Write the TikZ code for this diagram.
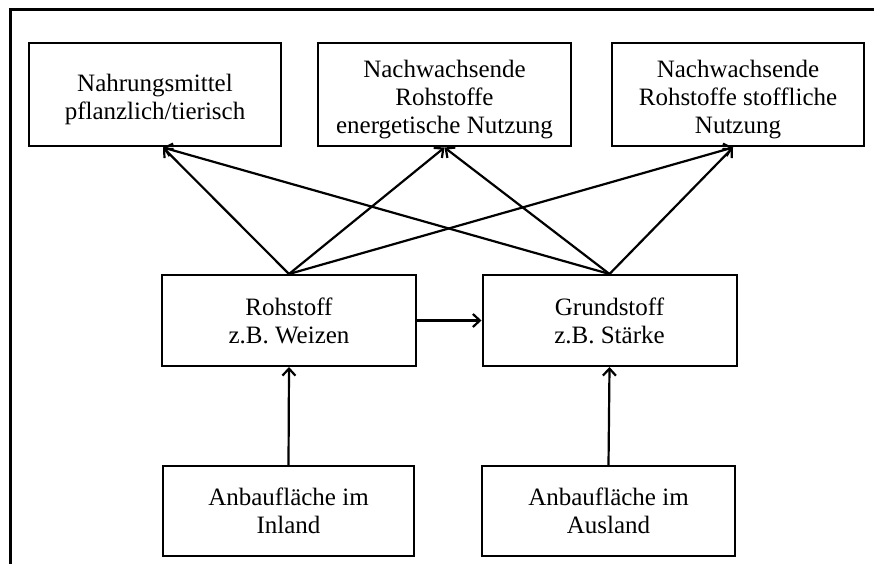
\documentclass[tikz,border=0pt]{standalone}
\usepackage{fontspec}
\setmainfont{Liberation Serif}
\usetikzlibrary{positioning,arrows.meta}

\begin{document}
\begin{tikzpicture}[x=1pt,y=-1pt,
  box/.style={draw,line width=2pt,minimum width=252pt,minimum height=103pt,
    inner sep=0pt,align=center,font=\fontsize{25}{28}\selectfont},
  arr/.style={->,line width=2.2pt},
  >={Straight Barb[length=7pt,width=13pt]}]
\useasboundingbox (0,0) rectangle (874,564);
\draw[line width=3pt](10,564)--(10,10)--(874,10);

\node[box] (n1) at (155,95) {\rule{0pt}{26pt}Nahrungsmittel\\pflanzlich/tierisch};
\node[box,minimum width=253pt] (n2) at (444.5,95) {\rule{0pt}{26pt}Nachwachsende\\Rohstoffe\\energetische Nutzung};
\node[box] (n3) at (738,95) {\rule{0pt}{26pt}Nachwachsende\\Rohstoffe stoffliche\\Nutzung};

\node[box,minimum width=254pt,minimum height=91pt] (roh) at (289,320.5) {Rohstoff\\z.B. Weizen};
\node[box,minimum width=254pt,minimum height=91pt] (grund) at (609.5,320.5) {Grundstoff\\z.B. St\"arke};

\node[box,minimum width=251pt,minimum height=90pt] (inl) at (288.5,511) {Anbaufl\"ache im\\Inland};
\node[box,minimum width=253pt,minimum height=90pt] (ausl) at (608.5,511) {Anbaufl\"ache im\\Ausland};

\foreach \x in {roh,grund}
  \foreach \y/\s in {n1/8,n2/0,n3/-5}
    \draw[arr](\x.north)--([xshift=\s pt]\y.south);

\foreach \x/\y in {roh.east/grund.west,inl.north/roh.south,ausl.north/grund.south}
  \draw[arr](\x)--(\y);

\end{tikzpicture}
\end{document}
